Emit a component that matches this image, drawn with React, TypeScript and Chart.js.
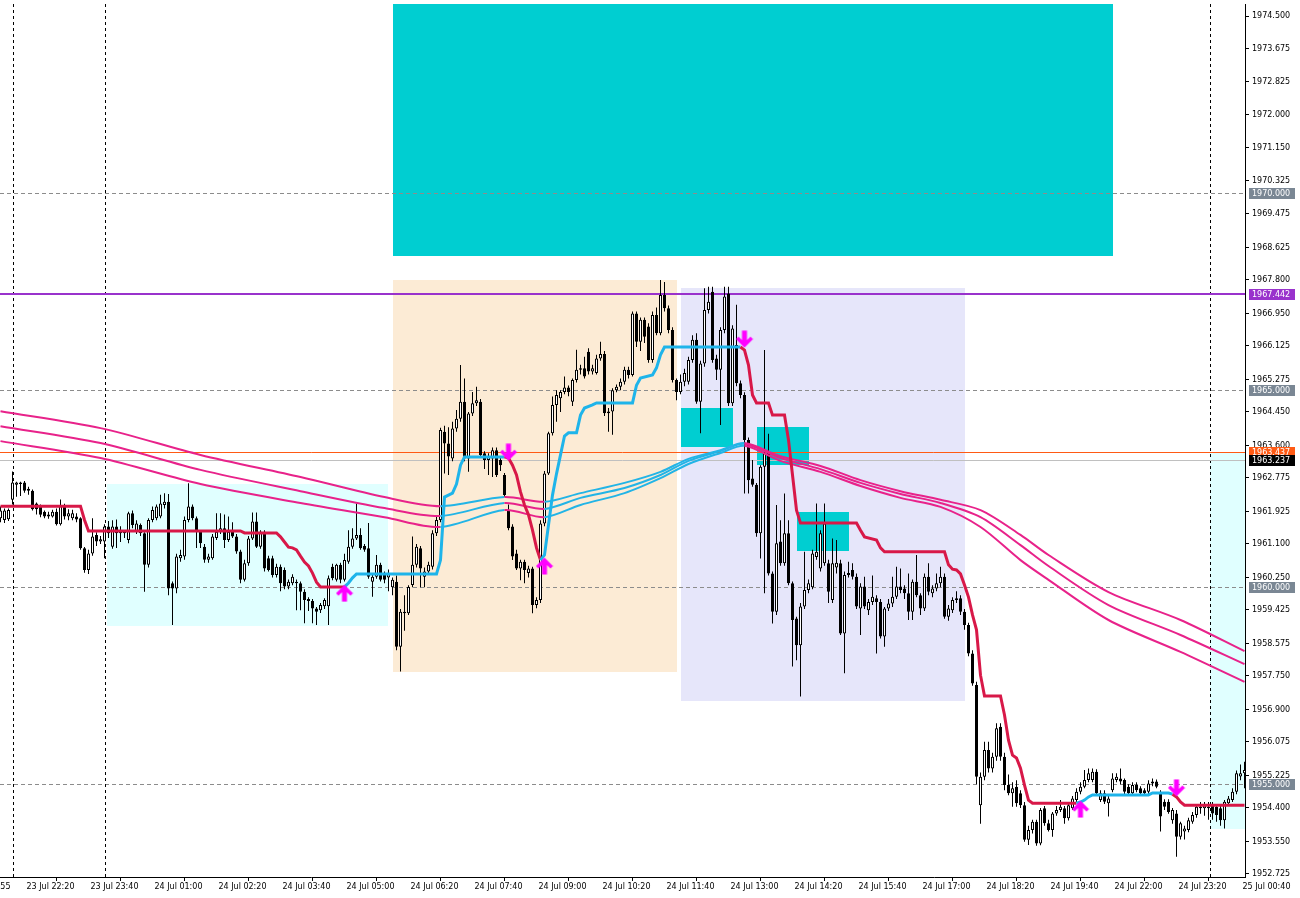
import React, { useEffect, useRef } from "react";
import { Chart, registerables } from "chart.js";

Chart.register(...registerables);

// ---------- candle data (M5, one entry per bar) ----------
const opens = [
  1961.75, 1961.71, 1961.73, 1962.22, 1962.60, 1962.62, 1962.66, 1962.45, 1962.45, 1962.13,
  1962.05, 1961.92, 1961.85, 1961.80, 1961.92, 1961.60, 1962.09, 1961.80, 1961.75, 1961.80,
  1961.75, 1960.99, 1960.44, 1960.86, 1961.33, 1961.16, 1961.16, 1961.54, 1961.03, 1961.54,
  1961.45, 1961.37, 1961.20, 1961.88, 1961.42, 1961.58, 1961.37, 1960.57, 1961.71, 1961.75,
  1961.80, 1962.09, 1962.17, 1960.10, 1959.97, 1960.74, 1960.78, 1961.71, 1962.05, 1961.75,
  1961.41, 1961.03, 1960.70, 1960.74, 1961.25, 1961.41, 1961.50, 1961.20, 1961.41, 1961.29,
  1960.91, 1960.19, 1960.61, 1961.24, 1961.67, 1961.03, 1961.41, 1960.74, 1960.74, 1960.31,
  1960.52, 1960.44, 1960.02, 1960.10, 1960.14, 1960.10, 1959.89, 1959.70, 1959.65, 1959.46,
  1959.42, 1959.52, 1959.52, 1960.52, 1960.19, 1960.57, 1960.19, 1960.65, 1961.03, 1961.24,
  1961.33, 1961.05, 1960.99, 1960.14, 1960.27, 1960.57, 1960.36, 1960.25, 1960.00, 1960.14,
  1958.49, 1959.38, 1959.34, 1960.06, 1960.57, 1960.99, 1960.27, 1960.40, 1960.52, 1961.37,
  1961.71, 1963.95, 1963.65, 1963.27, 1964.03, 1964.28, 1964.71, 1963.27, 1964.41, 1964.67,
  1964.71, 1963.40, 1963.23, 1963.27, 1963.48, 1963.23, 1962.85, 1961.96, 1961.54, 1960.86,
  1960.48, 1960.65, 1960.36, 1960.48, 1959.55, 1959.68, 1961.62, 1962.89, 1963.91, 1964.63,
  1964.80, 1964.96, 1965.07, 1964.71, 1965.26, 1965.52, 1965.56, 1965.98, 1965.48, 1965.44,
  1965.81, 1965.92, 1964.42, 1964.46, 1965.00, 1965.09, 1965.22, 1965.52, 1965.39, 1966.95,
  1966.23, 1966.79, 1966.62, 1965.77, 1966.91, 1966.45, 1967.42, 1967.08, 1966.53, 1965.26,
  1964.96, 1965.22, 1965.22, 1965.77, 1966.28, 1964.71, 1965.68, 1967.04, 1967.50, 1965.81,
  1965.52, 1966.53, 1967.46, 1964.67, 1966.15, 1965.18, 1964.88, 1963.74, 1962.76, 1962.60,
  1961.37, 1963.06, 1963.44, 1960.35, 1959.38, 1961.16, 1960.61, 1961.37, 1960.10, 1959.21,
  1958.53, 1959.51, 1959.93, 1960.00, 1960.77, 1960.48, 1960.61, 1960.61, 1959.68, 1960.50,
  1960.61, 1958.83, 1960.31, 1960.44, 1960.27, 1959.46, 1960.02, 1959.42, 1959.63, 1959.72,
  1959.63, 1958.75, 1959.46, 1959.59, 1959.76, 1960.02, 1959.97, 1959.85, 1959.38, 1960.14,
  1959.80, 1959.46, 1960.27, 1959.85, 1959.97, 1960.10, 1960.27, 1959.25, 1959.42, 1959.68,
  1959.72, 1959.38, 1959.04, 1958.32, 1957.52, 1954.47, 1955.19, 1955.87, 1955.40, 1955.70,
  1956.46, 1955.70, 1954.98, 1954.77, 1954.94, 1954.77, 1954.47, 1953.59, 1953.84, 1954.05,
  1953.50, 1954.39, 1954.01, 1953.84, 1954.26, 1954.35, 1954.39, 1954.14, 1954.39, 1954.60,
  1954.81, 1954.94, 1955.11, 1955.11, 1955.32, 1954.60, 1954.77, 1954.52, 1954.85, 1955.11,
  1955.15, 1955.11, 1954.94, 1954.77, 1954.98, 1954.90, 1954.85, 1954.81, 1955.02, 1955.07,
  1954.77, 1954.56, 1954.56, 1954.09, 1954.26, 1953.67, 1953.80, 1953.84, 1954.05, 1954.22,
  1954.43, 1954.39, 1954.39, 1954.47, 1954.43, 1954.39, 1954.09, 1954.52, 1954.60, 1954.81,
  1955.20, 1955.28,
];
const highs = [
  1962.05, 1962.00, 1962.00, 1962.94, 1962.68, 1962.68, 1962.70, 1962.55, 1962.48, 1962.15,
  1962.10, 1961.95, 1961.92, 1961.97, 1962.00, 1962.23, 1962.12, 1961.98, 1961.97, 1961.88,
  1961.78, 1961.02, 1960.95, 1961.75, 1961.40, 1961.30, 1961.60, 1961.68, 1961.70, 1961.72,
  1961.55, 1961.45, 1961.92, 1961.95, 1961.70, 1961.62, 1961.40, 1961.75, 1962.05, 1962.10,
  1962.35, 1962.39, 1962.37, 1960.15, 1960.85, 1960.95, 1961.80, 1962.64, 1962.10, 1961.80,
  1961.45, 1961.10, 1960.85, 1961.35, 1961.88, 1961.88, 1961.85, 1961.80, 1961.65, 1961.35,
  1960.95, 1960.70, 1961.30, 1961.90, 1961.90, 1961.45, 1961.45, 1960.80, 1960.80, 1960.60,
  1960.58, 1960.50, 1960.20, 1960.33, 1960.20, 1960.15, 1959.95, 1959.75, 1959.70, 1959.50,
  1959.60, 1959.72, 1960.30, 1960.60, 1960.60, 1960.62, 1960.85, 1961.45, 1961.50, 1962.13,
  1961.50, 1961.10, 1961.63, 1960.35, 1960.82, 1960.62, 1960.40, 1960.45, 1960.25, 1960.30,
  1959.45, 1959.80, 1960.05, 1961.29, 1961.10, 1961.05, 1960.50, 1960.65, 1961.45, 1961.80,
  1964.05, 1964.10, 1964.06, 1964.20, 1964.50, 1965.64, 1965.30, 1964.45, 1964.96, 1965.09,
  1964.78, 1963.45, 1963.40, 1963.55, 1963.55, 1963.30, 1962.90, 1962.10, 1961.60, 1960.95,
  1960.70, 1960.70, 1960.55, 1960.52, 1959.75, 1961.70, 1962.95, 1963.95, 1964.84, 1965.00,
  1965.00, 1965.35, 1965.12, 1965.30, 1966.03, 1965.65, 1965.85, 1966.07, 1965.65, 1965.90,
  1966.23, 1966.00, 1964.55, 1965.05, 1965.15, 1965.30, 1965.60, 1965.60, 1967.00, 1967.00,
  1966.85, 1966.85, 1966.70, 1967.00, 1967.10, 1967.80, 1967.75, 1967.15, 1966.60, 1965.30,
  1965.40, 1965.55, 1965.85, 1966.40, 1966.45, 1965.75, 1967.59, 1967.63, 1967.63, 1965.90,
  1966.60, 1967.63, 1967.63, 1966.65, 1967.17, 1965.25, 1964.95, 1963.80, 1963.23, 1962.65,
  1963.10, 1966.02, 1963.90, 1960.40, 1962.09, 1961.70, 1962.38, 1961.70, 1960.15, 1959.25,
  1959.60, 1960.90, 1960.20, 1960.95, 1962.13, 1961.45, 1962.13, 1960.70, 1961.24, 1961.20,
  1960.70, 1960.40, 1960.65, 1960.61, 1960.35, 1960.10, 1960.27, 1959.70, 1960.30, 1959.80,
  1959.70, 1959.50, 1959.70, 1960.27, 1960.52, 1960.48, 1960.05, 1960.35, 1960.20, 1960.82,
  1959.85, 1960.35, 1960.61, 1960.05, 1960.35, 1960.52, 1960.35, 1959.55, 1959.75, 1959.90,
  1959.80, 1959.45, 1959.10, 1958.40, 1957.60, 1955.30, 1956.08, 1956.08, 1955.80, 1956.55,
  1956.55, 1955.80, 1955.25, 1955.05, 1955.10, 1954.85, 1954.55, 1953.95, 1954.10, 1954.10,
  1954.40, 1954.45, 1954.10, 1954.30, 1954.45, 1954.60, 1954.45, 1954.55, 1954.70, 1954.90,
  1955.05, 1955.36, 1955.40, 1955.40, 1955.38, 1954.85, 1954.85, 1954.70, 1955.28, 1955.28,
  1955.40, 1955.15, 1955.00, 1955.05, 1955.05, 1954.95, 1954.90, 1955.10, 1955.15, 1955.12,
  1954.85, 1954.62, 1954.62, 1954.40, 1954.35, 1954.05, 1953.95, 1954.15, 1954.30, 1954.50,
  1954.55, 1954.55, 1954.55, 1954.55, 1954.50, 1954.45, 1954.60, 1954.70, 1954.90, 1955.35,
  1955.50, 1955.57,
];
const lows = [
  1961.65, 1961.63, 1961.68, 1962.10, 1962.30, 1962.32, 1962.40, 1962.35, 1961.95, 1961.85,
  1961.78, 1961.75, 1961.74, 1961.77, 1961.57, 1961.57, 1961.72, 1961.70, 1961.70, 1961.65,
  1960.95, 1960.37, 1960.34, 1960.80, 1961.05, 1961.10, 1960.74, 1961.25, 1960.98, 1961.00,
  1961.15, 1961.25, 1961.12, 1961.50, 1961.35, 1961.30, 1959.89, 1960.50, 1961.65, 1961.70,
  1961.75, 1962.00, 1959.80, 1959.04, 1959.85, 1960.65, 1960.70, 1961.65, 1961.70, 1961.00,
  1961.00, 1960.62, 1960.62, 1960.70, 1961.20, 1961.35, 1961.00, 1961.15, 1961.25, 1960.85,
  1960.10, 1960.15, 1960.55, 1961.20, 1961.00, 1960.98, 1960.40, 1960.40, 1960.25, 1960.25,
  1959.90, 1959.95, 1959.95, 1960.05, 1959.42, 1959.42, 1959.09, 1959.40, 1959.09, 1959.04,
  1959.35, 1959.45, 1959.04, 1960.18, 1960.15, 1960.10, 1960.15, 1960.60, 1960.98, 1961.20,
  1960.95, 1960.90, 1960.22, 1959.76, 1960.22, 1960.15, 1960.10, 1959.90, 1959.80, 1958.40,
  1957.86, 1958.90, 1959.30, 1960.00, 1960.50, 1960.00, 1960.00, 1960.35, 1960.45, 1961.30,
  1961.65, 1962.89, 1962.85, 1963.20, 1963.95, 1964.20, 1963.20, 1962.93, 1964.35, 1964.60,
  1963.30, 1963.00, 1962.85, 1962.80, 1962.80, 1962.95, 1962.30, 1961.45, 1960.69, 1960.44,
  1960.18, 1960.10, 1960.25, 1959.34, 1959.47, 1959.60, 1961.55, 1962.85, 1963.85, 1964.20,
  1964.45, 1964.90, 1964.85, 1964.60, 1965.20, 1965.40, 1965.30, 1965.40, 1965.40, 1965.40,
  1965.75, 1964.35, 1963.95, 1963.87, 1964.95, 1965.00, 1965.15, 1965.30, 1965.35, 1966.10,
  1966.00, 1966.20, 1965.70, 1965.70, 1966.40, 1966.40, 1967.00, 1966.45, 1965.20, 1964.75,
  1964.90, 1965.10, 1965.15, 1965.70, 1964.66, 1963.91, 1965.60, 1966.95, 1965.70, 1965.26,
  1964.12, 1966.45, 1964.60, 1964.60, 1965.10, 1964.80, 1962.38, 1962.38, 1962.55, 1961.28,
  1960.73, 1959.85, 1960.30, 1959.08, 1959.30, 1960.55, 1960.55, 1960.05, 1957.99, 1958.15,
  1957.23, 1959.45, 1959.85, 1959.95, 1960.70, 1960.40, 1960.55, 1959.60, 1959.60, 1960.35,
  1958.79, 1957.82, 1960.25, 1960.20, 1959.45, 1958.79, 1959.45, 1959.30, 1959.55, 1958.32,
  1958.70, 1958.49, 1959.40, 1959.50, 1959.70, 1959.85, 1959.70, 1959.17, 1959.17, 1959.75,
  1959.30, 1959.40, 1959.80, 1959.75, 1959.90, 1960.00, 1959.20, 1959.15, 1959.35, 1959.60,
  1959.30, 1958.92, 1958.25, 1957.50, 1955.00, 1954.00, 1955.10, 1955.30, 1955.30, 1955.60,
  1955.60, 1954.85, 1954.72, 1954.43, 1954.43, 1954.40, 1953.54, 1953.46, 1953.75, 1953.44,
  1953.45, 1953.95, 1953.80, 1953.67, 1954.20, 1954.30, 1954.00, 1954.08, 1954.35, 1954.55,
  1954.75, 1954.90, 1955.05, 1955.05, 1954.70, 1954.55, 1954.50, 1954.18, 1954.80, 1955.05,
  1955.00, 1954.75, 1954.70, 1954.72, 1954.80, 1954.70, 1954.70, 1954.75, 1954.95, 1954.90,
  1953.80, 1954.35, 1954.25, 1954.00, 1953.16, 1953.60, 1953.60, 1953.78, 1954.00, 1954.15,
  1954.25, 1954.20, 1954.10, 1954.10, 1954.05, 1953.95, 1953.88, 1954.45, 1954.55, 1954.75,
  1955.10, 1954.90,
];
const closes = [
  1961.95, 1961.95, 1961.96, 1962.66, 1962.66, 1962.66, 1962.45, 1962.50, 1961.98, 1961.98,
  1961.84, 1961.80, 1961.80, 1961.92, 1961.60, 1962.09, 1961.80, 1961.88, 1961.88, 1961.72,
  1960.99, 1960.44, 1960.86, 1961.29, 1961.16, 1961.22, 1961.54, 1961.37, 1961.54, 1961.37,
  1961.37, 1961.42, 1961.88, 1961.58, 1961.62, 1961.37, 1960.57, 1961.71, 1961.96, 1962.05,
  1962.13, 1962.17, 1959.97, 1959.97, 1960.78, 1960.82, 1961.71, 1962.05, 1961.75, 1961.41,
  1961.12, 1960.70, 1960.78, 1961.29, 1961.41, 1961.50, 1961.20, 1961.41, 1961.29, 1960.91,
  1960.19, 1960.61, 1961.24, 1961.67, 1961.03, 1961.41, 1960.48, 1960.44, 1960.31, 1960.52,
  1960.10, 1960.02, 1960.14, 1960.27, 1960.10, 1959.89, 1959.68, 1959.65, 1959.46, 1959.38,
  1959.55, 1959.68, 1960.23, 1960.23, 1960.57, 1960.19, 1960.69, 1961.03, 1961.24, 1961.33,
  1960.99, 1960.95, 1960.27, 1960.27, 1960.57, 1960.19, 1960.19, 1960.36, 1960.19, 1958.49,
  1959.38, 1959.34, 1960.01, 1960.57, 1961.03, 1960.48, 1960.40, 1960.57, 1961.37, 1961.71,
  1963.99, 1963.65, 1963.32, 1964.03, 1964.28, 1964.71, 1963.27, 1964.41, 1964.67, 1964.75,
  1963.36, 1963.23, 1963.32, 1963.48, 1962.85, 1963.10, 1962.34, 1961.50, 1960.78, 1960.48,
  1960.65, 1960.44, 1960.48, 1959.55, 1959.68, 1961.62, 1962.89, 1963.91, 1964.63, 1964.88,
  1964.96, 1965.07, 1964.96, 1965.26, 1965.52, 1965.56, 1965.35, 1965.48, 1965.56, 1965.81,
  1965.92, 1964.42, 1964.46, 1965.00, 1965.09, 1965.22, 1965.52, 1965.39, 1966.95, 1966.23,
  1966.79, 1966.36, 1965.77, 1966.91, 1966.45, 1967.42, 1967.08, 1966.53, 1965.26, 1964.96,
  1965.22, 1965.44, 1965.77, 1966.28, 1964.71, 1965.68, 1967.04, 1967.25, 1965.77, 1965.52,
  1966.53, 1967.38, 1964.67, 1966.57, 1965.18, 1964.88, 1963.74, 1962.72, 1962.60, 1961.37,
  1963.06, 1963.40, 1960.35, 1959.38, 1961.12, 1960.61, 1961.37, 1960.10, 1959.17, 1958.53,
  1959.51, 1959.93, 1960.10, 1960.86, 1960.90, 1961.37, 1961.62, 1959.89, 1960.61, 1960.62,
  1958.83, 1960.31, 1960.36, 1960.27, 1959.51, 1960.02, 1959.51, 1959.63, 1959.76, 1959.63,
  1958.75, 1959.46, 1959.59, 1959.76, 1960.02, 1959.93, 1959.85, 1959.38, 1960.14, 1959.80,
  1959.46, 1960.27, 1959.89, 1959.97, 1960.10, 1960.27, 1959.25, 1959.46, 1959.68, 1959.72,
  1959.38, 1959.04, 1958.32, 1957.56, 1955.19, 1955.19, 1955.87, 1955.40, 1955.70, 1956.42,
  1955.70, 1954.98, 1954.77, 1954.90, 1954.52, 1954.47, 1953.59, 1953.84, 1954.05, 1953.50,
  1954.35, 1954.01, 1953.84, 1954.26, 1954.35, 1954.43, 1954.14, 1954.47, 1954.64, 1954.81,
  1954.94, 1955.11, 1955.28, 1955.32, 1954.77, 1954.77, 1954.56, 1954.64, 1955.15, 1955.19,
  1955.07, 1954.81, 1954.77, 1954.98, 1954.85, 1954.77, 1954.77, 1955.02, 1955.07, 1954.94,
  1954.18, 1954.43, 1954.30, 1954.35, 1953.67, 1954.01, 1953.88, 1954.09, 1954.22, 1954.43,
  1954.39, 1954.47, 1954.43, 1954.26, 1954.22, 1954.09, 1954.56, 1954.64, 1954.81, 1955.28,
  1955.28, 1955.36,
];

// ---------- axis labels ----------
const timeLabels = [
  "21 Jul 22:55", "23 Jul 22:20", "23 Jul 23:40", "24 Jul 01:00", "24 Jul 02:20",
  "24 Jul 03:40", "24 Jul 05:00", "24 Jul 06:20", "24 Jul 07:40", "24 Jul 09:00",
  "24 Jul 10:20", "24 Jul 11:40", "24 Jul 13:00", "24 Jul 14:20", "24 Jul 15:40",
  "24 Jul 17:00", "24 Jul 18:20", "24 Jul 19:40", "24 Jul 22:00", "24 Jul 23:20",
  "25 Jul 00:40",
];
const firstTimeTickBar = -10;
const barsPerTimeTick = 16;

const priceLabels = [
  "1974.500", "1973.675", "1972.825", "1972.000", "1971.150", "1970.325", "1969.475",
  "1968.625", "1967.800", "1966.950", "1966.125", "1965.275", "1964.450", "1963.600",
  "1962.775", "1961.925", "1961.100", "1960.250", "1959.425", "1958.575", "1957.750",
  "1956.900", "1956.075", "1955.225", "1954.400", "1953.550", "1952.725",
];

// ---------- moving averages (sampled by bar) ----------
const maBars = [0, 25, 50, 75, 96, 110, 126, 136, 145, 156, 165, 172, 180, 186, 195, 205, 215, 225, 235, 245, 255, 262, 277, 295, 311];
const maFast = [1964.47, 1964.04, 1963.36, 1962.80, 1962.29, 1962.06, 1962.29, 1962.17, 1962.39, 1962.65, 1962.93, 1963.26, 1963.48, 1963.66, 1963.33, 1963.08, 1962.72, 1962.44, 1962.22, 1961.96, 1961.33, 1960.82, 1959.88, 1959.17, 1958.38];
const maMid = [1964.09, 1963.66, 1962.98, 1962.44, 1962.01, 1961.81, 1962.14, 1961.99, 1962.27, 1962.52, 1962.85, 1963.21, 1963.46, 1963.64, 1963.28, 1963.00, 1962.65, 1962.37, 1962.14, 1961.78, 1961.07, 1960.54, 1959.55, 1958.79, 1958.05];
const maSlow = [1963.71, 1963.28, 1962.62, 1962.14, 1961.78, 1961.53, 1961.96, 1961.78, 1962.09, 1962.39, 1962.77, 1963.13, 1963.41, 1963.59, 1963.21, 1962.93, 1962.57, 1962.27, 1962.04, 1961.53, 1960.69, 1960.19, 1959.17, 1958.36, 1957.60];
const maUpRanges = [[110, 126], [136, 186]];

// ---------- trend (step) line ----------
const stBars = [
  0, 20, 21, 22, 60, 61, 69, 70, 71, 72, 73, 74, 75, 76, 77, 78, 79, 80, 86,
  87, 88, 89, 109, 110, 111, 112, 113, 114, 115, 116, 126,
  127, 128, 129, 130, 131, 132, 133, 134, 135,
  136, 137, 138, 139, 140, 141, 142, 144, 145, 146, 148, 149, 158, 159, 160, 163, 164, 165, 166, 185,
  186, 187, 188, 189, 192, 193, 196, 197, 198, 199, 200, 214, 215, 216, 219, 220, 221, 236, 237, 238, 239, 240,
  241, 242, 243, 244, 245, 246, 250, 251, 252, 253, 254, 255, 256, 257, 258, 269,
  270, 271, 272, 273, 287, 288, 292, 293,
  294, 295, 296, 311,
];
const stValues = [
  1962.06, 1962.06, 1961.71, 1961.43, 1961.43, 1961.38, 1961.38, 1961.28, 1961.15, 1961.02, 1961.00, 1960.95, 1960.79, 1960.64, 1960.54, 1960.36, 1960.13, 1960.01, 1960.01,
  1960.11, 1960.24, 1960.34, 1960.34, 1960.69, 1962.29, 1962.34, 1962.39, 1962.62, 1963.10, 1963.31, 1963.31,
  1963.28, 1963.10, 1962.85, 1962.42, 1962.09, 1961.84, 1961.45, 1961.00, 1960.69,
  1960.82, 1961.58, 1962.34, 1962.88, 1963.36, 1963.84, 1963.92, 1963.92, 1964.37, 1964.55, 1964.63, 1964.68, 1964.68, 1965.13, 1965.31, 1965.39, 1965.57, 1965.90, 1966.10, 1966.10,
  1966.02, 1965.64, 1964.88, 1964.68, 1964.68, 1964.37, 1964.37, 1963.74, 1962.85, 1961.96, 1961.63, 1961.63, 1961.45, 1961.28, 1961.20, 1961.00, 1960.90, 1960.90, 1960.57, 1960.46, 1960.44, 1960.34,
  1960.06, 1959.75, 1959.30, 1958.92, 1957.77, 1957.24, 1957.24, 1956.76, 1956.12, 1955.74, 1955.67, 1955.41, 1954.98, 1954.60, 1954.52, 1954.52,
  1954.55, 1954.60, 1954.68, 1954.73, 1954.73, 1954.78, 1954.78, 1954.75,
  1954.68, 1954.55, 1954.47, 1954.47,
];
const stUpRanges = [[86, 126], [135, 185], [269, 293]];

// ---------- signal arrows ----------
const arrowUpBars = [86, 136, 270];
const arrowUpValues = [1959.85, 1960.54, 1954.37];
const arrowDownBars = [127, 186, 294];
const arrowDownValues = [1963.43, 1966.3, 1954.91];

// ---------- levels and zones ----------
const roundLevels = [1970, 1965, 1960, 1955];
const resistanceLevel = 1967.442;
const alertLevel = 1963.437;
const bidLevel = 1963.237;
const daySeparatorBars = [3.1, 26.1, 302.4];

// [fromBar, toBar, topPrice, bottomPrice]
const zoneTargetBig = [98.1, 278.1, 1975.5, 1968.41];
const zoneRangeLeft = [26.6, 96.9, 1962.62, 1959.02];
const zoneSessionA = [98.1, 169.1, 1967.8, 1957.85];
const zoneSessionB = [170.1, 241.1, 1967.6, 1957.11];
const zoneBlock1 = [170.1, 183.1, 1964.55, 1963.56];
const zoneBlock2 = [189.1, 202.1, 1964.07, 1963.1];
const zoneBlock3 = [199.1, 212.1, 1961.91, 1960.92];
const zoneRangeRight = [302.4, 313, 1963.43, 1953.87];

// ---------- styles ----------
const FONT = "'DejaVu Sans', sans-serif";
const PINK = "#E8228A";
const MA_BLUE = "#22B4E6";
const ST_RED = "#D81848";
const ST_CYAN = "#1EB4EA";
const MAGENTA = "#FF00FF";
const Y_MAX = 1974.8046;
const Y_MIN = 1952.6472;

function makeArrow(up) {
  const c = document.createElement("canvas");
  c.width = 18;
  c.height = 18;
  const g = c.getContext("2d");
  g.fillStyle = MAGENTA;
  g.translate(9, 9);
  if (!up) g.scale(1, -1);
  g.beginPath();
  g.moveTo(0, -8.5);
  g.lineTo(8.5, 0);
  g.lineTo(6, 2.5);
  g.lineTo(2.5, -1);
  g.lineTo(2.5, 8.5);
  g.lineTo(-2.5, 8.5);
  g.lineTo(-2.5, -1);
  g.lineTo(-6, 2.5);
  g.lineTo(-8.5, 0);
  g.closePath();
  g.fill();
  return c;
}

const inRanges = (ranges, a, b) => ranges.some(([s, e]) => a >= s && b <= e);

const backgroundPlugin = {
  id: "mtBackground",
  beforeDatasetsDraw(chart) {
    const { ctx, chartArea, scales } = chart;
    const x = scales.x;
    const y = scales.y;
    ctx.save();
    ctx.beginPath();
    ctx.rect(chartArea.left, chartArea.top, chartArea.right - chartArea.left, chartArea.bottom - chartArea.top);
    ctx.clip();
    const zones = [
      [zoneTargetBig, "#00CED1"],
      [zoneRangeLeft, "#E0FFFF"],
      [zoneSessionA, "#FCEBD5"],
      [zoneSessionB, "#E6E6FA"],
      [zoneBlock1, "#00CED1"],
      [zoneBlock2, "#00CED1"],
      [zoneBlock3, "#00CED1"],
      [zoneRangeRight, "#E0FFFF"],
    ];
    zones.forEach(([z, color]) => {
      const x0 = Math.round(x.getPixelForValue(z[0]));
      const x1 = Math.round(x.getPixelForValue(z[1]));
      const y0 = Math.round(y.getPixelForValue(z[2]));
      const y1 = Math.round(y.getPixelForValue(z[3]));
      ctx.fillStyle = color;
      ctx.fillRect(x0, y0, x1 - x0, y1 - y0);
    });
    ctx.lineWidth = 1;
    ctx.strokeStyle = "#8C8C8C";
    ctx.setLineDash([4, 3]);
    roundLevels.forEach((v) => {
      const py = Math.round(y.getPixelForValue(v)) + 0.5;
      ctx.beginPath();
      ctx.moveTo(chartArea.left, py);
      ctx.lineTo(chartArea.right, py);
      ctx.stroke();
    });
    ctx.strokeStyle = "#000";
    ctx.setLineDash([3, 3]);
    daySeparatorBars.forEach((b) => {
      const px = Math.round(x.getPixelForValue(b)) + 0.5;
      ctx.beginPath();
      ctx.moveTo(px, chartArea.top);
      ctx.lineTo(px, chartArea.bottom);
      ctx.stroke();
    });
    ctx.setLineDash([]);
    let py = Math.round(y.getPixelForValue(bidLevel)) + 0.5;
    ctx.strokeStyle = "#C0C0C0";
    ctx.beginPath();
    ctx.moveTo(chartArea.left, py);
    ctx.lineTo(chartArea.right, py);
    ctx.stroke();
    py = Math.round(y.getPixelForValue(alertLevel)) + 0.5;
    ctx.strokeStyle = "#FF5A14";
    ctx.beginPath();
    ctx.moveTo(chartArea.left, py);
    ctx.lineTo(chartArea.right, py);
    ctx.stroke();
    py = Math.round(y.getPixelForValue(resistanceLevel));
    ctx.strokeStyle = "#9932CC";
    ctx.lineWidth = 2;
    ctx.beginPath();
    ctx.moveTo(chartArea.left, py);
    ctx.lineTo(chartArea.right, py);
    ctx.stroke();
    ctx.restore();
  },
  afterDraw(chart) {
    const { ctx, chartArea, scales } = chart;
    const y = scales.y;
    const tags = [
      [1970, "1970.000", "#7A8794"],
      [resistanceLevel, "1967.442", "#9932CC"],
      [1965, "1965.000", "#7A8794"],
      [alertLevel, "1963.437", "#FF5A14"],
      [bidLevel, "1963.237", "#000000"],
      [1960, "1960.000", "#7A8794"],
      [1955, "1955.000", "#7A8794"],
    ];
    ctx.save();
    ctx.font = `8px ${FONT}`;
    ctx.textBaseline = "middle";
    ctx.textAlign = "left";
    tags.forEach(([v, text, bg]) => {
      const py = Math.round(y.getPixelForValue(v));
      ctx.fillStyle = bg;
      ctx.fillRect(chartArea.right + 4, py - 5, 46, 11);
      ctx.fillStyle = "#FFFFFF";
      ctx.fillText(text, chartArea.right + 7, py + 0.5);
    });
    ctx.restore();
  },
};

export default function App() {
  const ref = useRef(null);

  useEffect(() => {
    const canvas = ref.current;
    if (!canvas) return;
    const upArrow = makeArrow(true);
    const downArrow = makeArrow(false);

    const idx = opens.map((_, i) => i);
    const wickData = idx.map((i) => ({
      x: i,
      y: [Math.min(lows[i], opens[i], closes[i]), Math.max(highs[i], opens[i], closes[i])],
    }));
    const bodyData = idx.map((i) => ({ x: i, y: [opens[i], closes[i]] }));
    const bodyFill = idx.map((i) => (closes[i] >= opens[i] ? "#FFFFFF" : "#000000"));

    const maDataset = (values) => ({
      type: "line",
      data: maBars.map((b, k) => ({ x: b, y: values[k] })),
      borderColor: PINK,
      borderWidth: 2,
      pointRadius: 0,
      tension: 0.3,
      order: 5,
      segment: {
        borderColor: (c) => (inRanges(maUpRanges, c.p0.parsed.x, c.p1.parsed.x) ? MA_BLUE : PINK),
      },
    });

    const chart = new Chart(canvas, {
      type: "bar",
      data: {
        datasets: [
          {
            type: "bar",
            data: wickData,
            backgroundColor: "#000000",
            borderWidth: 0,
            barThickness: 1,
            grouped: false,
            inflateAmount: 0,
            order: 10,
          },
          {
            type: "bar",
            data: bodyData,
            backgroundColor: bodyFill,
            borderColor: "#000000",
            borderWidth: 1,
            borderSkipped: false,
            barThickness: 3,
            grouped: false,
            inflateAmount: 0,
            order: 9,
          },
          maDataset(maFast),
          maDataset(maMid),
          maDataset(maSlow),
          {
            type: "line",
            data: stBars.map((b, k) => ({ x: b, y: stValues[k] })),
            borderColor: ST_RED,
            borderWidth: 3,
            pointRadius: 0,
            tension: 0,
            order: 4,
            segment: {
              borderColor: (c) => (inRanges(stUpRanges, c.p0.parsed.x, c.p1.parsed.x) ? ST_CYAN : ST_RED),
            },
          },
          {
            type: "scatter",
            data: arrowUpBars.map((b, k) => ({ x: b, y: arrowUpValues[k] })),
            pointStyle: upArrow,
            pointRadius: 9,
            order: 1,
          },
          {
            type: "scatter",
            data: arrowDownBars.map((b, k) => ({ x: b, y: arrowDownValues[k] })),
            pointStyle: downArrow,
            pointRadius: 9,
            order: 1,
          },
        ],
      },
      options: {
        animation: false,
        responsive: false,
        maintainAspectRatio: false,
        devicePixelRatio: 1,
        layout: { autoPadding: false, padding: { top: 4, left: 0, right: 0, bottom: 0 } },
        plugins: { legend: { display: false }, tooltip: { enabled: false } },
        events: [],
        scales: {
          x: {
            type: "linear",
            min: -0.125,
            max: 311.125,
            offset: false,
            afterBuildTicks: (s) => {
              s.ticks = timeLabels.map((_, k) => ({ value: firstTimeTickBar + k * barsPerTimeTick }));
            },
            afterFit: (s) => {
              s.height = 21;
              s.paddingLeft = 0;
              s.paddingRight = 0;
            },
            ticks: {
              callback: (_v, i) => timeLabels[i],
              autoSkip: false,
              maxRotation: 0,
              minRotation: 0,
              align: "start",
              labelOffset: 2,
              padding: 1,
              color: "#000",
              font: { family: FONT, size: 8 },
            },
            grid: { drawOnChartArea: false, drawTicks: true, tickLength: 4, color: "#000" },
            border: { display: true, color: "#000", width: 1 },
          },
          y: {
            position: "right",
            min: Y_MIN,
            max: Y_MAX,
            afterBuildTicks: (s) => {
              s.ticks = priceLabels.map((l) => ({ value: parseFloat(l) }));
            },
            afterFit: (s) => {
              s.width = 55;
              s.paddingTop = 0;
              s.paddingBottom = 0;
            },
            ticks: {
              callback: (_v, i) => priceLabels[i],
              autoSkip: false,
              padding: 3,
              color: "#000",
              font: { family: FONT, size: 8 },
            },
            grid: { drawOnChartArea: false, drawTicks: true, tickLength: 4, color: "#000" },
            border: { display: true, color: "#000", width: 1 },
          },
        },
      },
      plugins: [backgroundPlugin],
    });

    return () => chart.destroy();
  }, []);

  return (
    <div style={{ position: "fixed", left: 0, top: 0, width: 1300, height: 898, background: "#FFFFFF" }}>
      <canvas ref={ref} width={1300} height={898} style={{ display: "block", width: 1300, height: 898 }} />
    </div>
  );
}
